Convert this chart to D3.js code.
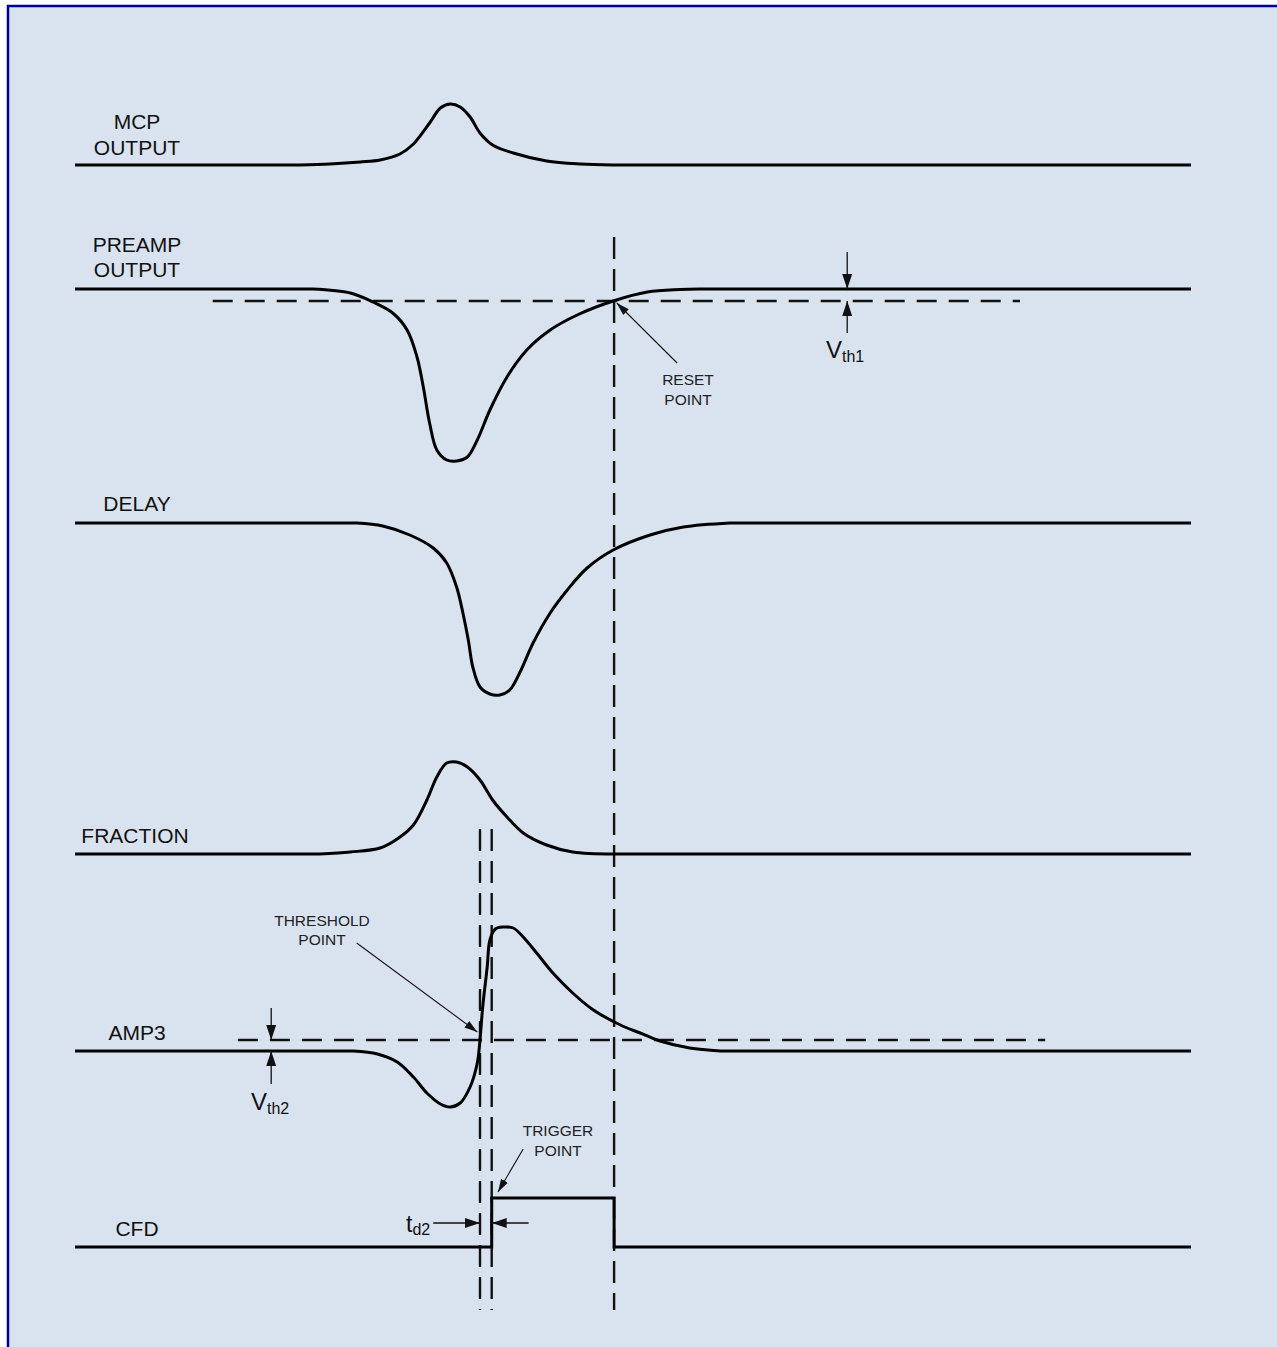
<!DOCTYPE html>
<html>
<head>
<meta charset="utf-8">
<script src="https://cdn.jsdelivr.net/npm/d3@7/dist/d3.min.js"></script>
<style>
html, body { margin: 0; padding: 0; background: #fff; }
svg { display: block; }
</style>
</head>
<body>
<div id="chart"></div>
<script>
// CFD timing diagram - signals as [time, amplitude] pairs
const mcpOutput = [[0,0],[25,0],[28.3,0.5],[31.7,1.5],[33.9,2.5],[36.1,5.5],[37.6,10.5],[39.4,21],[40.6,28.5],
  [41.7,30.5],[42.8,29],[43.9,24],[45,16],[46.4,10],[48.7,6],[52.4,2],[56.1,0.5],[59.8,0],[124,0]];

const preampOutput = [[0,0],[26.4,0],[30.6,-2],[33.1,-6.5],[35.3,-12],[36.9,-20.5],[38,-34],
  [38.7,-49],[39.4,-67],[40.2,-80.5],[41.3,-85.5],[42.4,-86],[43.6,-84],[44.7,-75.5],[46.1,-60.5],
  [48,-44],[50.2,-30.5],[52.8,-20.5],[55.8,-13],[59.8,-6],[63.6,-1.5],[67.2,-0.25],[69.4,0],[124,0]];

const delayOut = [[0,0],[31.3,0],[34.2,-1.5],[37.2,-6],[39.8,-12.5],[41.3,-20],[42.4,-32],[43.1,-45],
  [43.7,-58.5],[44.2,-72],[45,-82],[46.1,-85.5],[47.2,-86],[48.3,-83.5],[49.4,-75],[50.9,-60],[52.8,-45],
  [54.7,-33.5],[56.9,-22.5],[59.8,-13.5],[63.9,-6],[67.6,-2],[72.8,0],[124,0]];

const fractionOut = [[0,0],[27.2,0],[30.6,1],[33.9,3],[35.8,7.5],[37.6,14.5],[39.1,27],[40.2,38.5],[41.3,45.5],
  [42.4,46],[43.6,43.5],[45,37],[46.4,27],[48,18.5],[49.8,10.5],[52.4,4.5],[55.3,1],[59.8,0],[124,0]];

const amp3Out = [[0,0],[30.9,0],[33.6,-1.5],[35.8,-5.5],[37.6,-13],[39.1,-21],[40.6,-26.5],[41.7,-28],
  [42.8,-26],[43.9,-18],[44.7,-6],[45,5.5],[45.3,22],[45.8,42],[46.1,55.5],[46.7,61],[47.6,62],[48.7,61.5],
  [49.8,57],[51.3,49],[53.1,39],[55.3,29],[57.6,20.5],[60.6,13],[62.8,9],[65,5],[68.3,1.5],[71.7,0],[124,0]];

const cfdOut = [[0,0],[46.3,0],[46.3,24.5],[59.9,24.5],[59.9,0],[124,0]];

// thresholds and marker times
const vth1 = -6;            // preamp threshold
const vth2 = 5.5;           // amp3 threshold
const thresholdTime = 45;
const triggerTime = 46.3;
const resetTime = 59.9;

// ---- layout ----
const W = 1277, H = 1347;
const laneY = { mcp: 165, preamp: 289, delay: 523, fraction: 854, amp3: 1051, cfd: 1247 };
const FONT = "'Liberation Sans', Arial, Helvetica, sans-serif";
const INK = "#111";

const svg = d3.select("#chart").append("svg")
  .attr("width", W).attr("height", H);

svg.append("rect").attr("width", W).attr("height", H).attr("fill", "#fff");
svg.append("rect")
  .attr("x", 8).attr("y", 6)
  .attr("width", W + 20).attr("height", H + 20)
  .attr("fill", "#d9e3ef")
  .attr("stroke", "#000090")
  .attr("stroke-width", 2.5);

const defs = svg.append("defs");
defs.append("marker").attr("id", "head")
  .attr("markerUnits", "userSpaceOnUse")
  .attr("viewBox", "0 0 15 10").attr("refX", 15).attr("refY", 5)
  .attr("markerWidth", 15).attr("markerHeight", 10).attr("orient", "auto")
  .append("path").attr("d", "M0,0L15,5L0,10Z").attr("fill", INK);
defs.append("marker").attr("id", "small")
  .attr("markerUnits", "userSpaceOnUse")
  .attr("viewBox", "0 0 13 8").attr("refX", 13).attr("refY", 4)
  .attr("markerWidth", 13).attr("markerHeight", 8).attr("orient", "auto")
  .append("path").attr("d", "M0,0L13,4L0,8Z").attr("fill", INK);

const x = d3.scaleLinear().domain([0, 124]).range([75, 1191]);
const amp = d3.scaleLinear().domain([-100, 100]).range([200, -200]);
const Y = (lane, v) => laneY[lane] + amp(v);

const smooth = d3.line().x(d => x(d[0])).y(d => amp(d[1])).curve(d3.curveCatmullRom.alpha(0.5));
const straight = d3.line().x(d => x(d[0])).y(d => amp(d[1]));

// vertical dashed markers (drawn first, under the traces)
const vDash = [
  { t: thresholdTime, y1: 829, y2: 1310 },
  { t: triggerTime, y1: 829, y2: 1310 },
  { t: resetTime, y1: 237, y2: 1310 }
];
svg.append("g").selectAll("line").data(vDash).enter().append("line")
  .attr("x1", d => x(d.t)).attr("x2", d => x(d.t))
  .attr("y1", d => d.y1).attr("y2", d => d.y2)
  .attr("stroke", INK).attr("stroke-width", 2.4)
  .attr("stroke-dasharray", "22,10");

// horizontal threshold lines
const hDash = [
  { lane: "preamp", v: vth1, t0: 15.3, t1: 105 },
  { lane: "amp3", v: vth2, t0: 18.1, t1: 107.8 }
];
svg.append("g").selectAll("line").data(hDash).enter().append("line")
  .attr("x1", d => x(d.t0)).attr("x2", d => x(d.t1))
  .attr("y1", d => Y(d.lane, d.v)).attr("y2", d => Y(d.lane, d.v))
  .attr("stroke", INK).attr("stroke-width", 2.4)
  .attr("stroke-dasharray", "20,12");

// traces: flat baseline ends straight, pulse part smooth
const traces = [
  { lane: "mcp", data: mcpOutput },
  { lane: "preamp", data: preampOutput },
  { lane: "delay", data: delayOut },
  { lane: "fraction", data: fractionOut },
  { lane: "amp3", data: amp3Out }
];
function tracePath(data) {
  const n = data.length;
  const head = straight(data.slice(0, 2));
  const body = smooth(data.slice(1, n - 1)).replace(/^M[^A-Za-z]*/, "");
  const tail = "L" + x(data[n - 1][0]) + "," + amp(data[n - 1][1]);
  return head + body + tail;
}
traces.forEach(tr => {
  svg.append("path")
    .attr("transform", `translate(0,${laneY[tr.lane]})`)
    .attr("d", tracePath(tr.data))
    .attr("fill", "none")
    .attr("stroke", "#000")
    .attr("stroke-width", 3)
    .attr("stroke-linejoin", "round");
});
svg.append("path")
  .attr("transform", `translate(0,${laneY.cfd})`)
  .attr("d", straight(cfdOut))
  .attr("fill", "none")
  .attr("stroke", "#000")
  .attr("stroke-width", 3);

// lane labels
const labels = [
  { lines: ["MCP", "OUTPUT"], x: 137, y: [129, 155] },
  { lines: ["PREAMP", "OUTPUT"], x: 137, y: [252, 277] },
  { lines: ["DELAY"], x: 137, y: [511] },
  { lines: ["FRACTION"], x: 135, y: [843] },
  { lines: ["AMP3"], x: 137, y: [1040] },
  { lines: ["CFD"], x: 137, y: [1236] }
];
labels.forEach(l => l.lines.forEach((s, i) => {
  svg.append("text").attr("x", l.x).attr("y", l.y[i])
    .attr("text-anchor", "middle")
    .style("font-family", FONT).style("font-size", "21px").style("fill", INK)
    .text(s);
}));

// small callout texts
const callouts = [
  { lines: ["RESET", "POINT"], x: 688, y: [385, 405] },
  { lines: ["THRESHOLD", "POINT"], x: 322, y: [926, 945] },
  { lines: ["TRIGGER", "POINT"], x: 558, y: [1136, 1156] }
];
callouts.forEach(c => c.lines.forEach((s, i) => {
  svg.append("text").attr("x", c.x).attr("y", c.y[i])
    .attr("text-anchor", "middle")
    .style("font-family", FONT).style("font-size", "15.5px").style("fill", "#222")
    .text(s);
}));

// callout arrows (thin)
const pointers = [
  { lane: "preamp", t0: 66.9, v0: -37, t1: 60.2, v1: -7 },
  { lane: "amp3", t0: 31.3, v0: 54, t1: 44.7, v1: 9.5 },
  { lane: "cfd", t0: 49.8, v0: 49, t1: 47, v1: 27.5 }
];
svg.append("g").selectAll("line").data(pointers).enter().append("line")
  .attr("x1", d => x(d.t0)).attr("y1", d => Y(d.lane, d.v0))
  .attr("x2", d => x(d.t1)).attr("y2", d => Y(d.lane, d.v1))
  .attr("stroke", INK).attr("stroke-width", 1.1)
  .attr("marker-end", "url(#small)");

// dimension arrows (Vth1, Vth2, td2)
const dims = [
  { lane: "preamp", t0: 85.8, v0: 18.5, t1: 85.8, v1: 0 },
  { lane: "preamp", t0: 85.8, v0: -22, t1: 85.8, v1: vth1 },
  { lane: "amp3", t0: 21.8, v0: 21.5, t1: 21.8, v1: vth2 },
  { lane: "amp3", t0: 21.8, v0: -16.5, t1: 21.8, v1: 0 },
  { lane: "cfd", t0: 39.8, v0: 12, t1: thresholdTime, v1: 12 },
  { lane: "cfd", t0: 50.4, v0: 12, t1: triggerTime, v1: 12 }
];
svg.append("g").selectAll("line").data(dims).enter().append("line")
  .attr("x1", d => x(d.t0)).attr("y1", d => Y(d.lane, d.v0))
  .attr("x2", d => x(d.t1)).attr("y2", d => Y(d.lane, d.v1))
  .attr("stroke", INK).attr("stroke-width", 1.3)
  .attr("marker-end", "url(#head)");

// symbols with subscripts
const symbols = [
  { main: "V", sub: "th1", x: 826, y: 358, size: 24, subSize: 16, dy: 4 },
  { main: "V", sub: "th2", x: 251, y: 1110, size: 24, subSize: 16, dy: 4 },
  { main: "t", sub: "d2", x: 406, y: 1232, size: 23, subSize: 16, dy: 3 }
];
symbols.forEach(s => {
  const t = svg.append("text").attr("x", s.x).attr("y", s.y)
    .style("font-family", FONT).style("font-size", s.size + "px").style("fill", INK)
    .text(s.main);
  t.append("tspan").attr("dy", s.dy).style("font-size", s.subSize + "px").text(s.sub);
});
</script>
</body>
</html>
